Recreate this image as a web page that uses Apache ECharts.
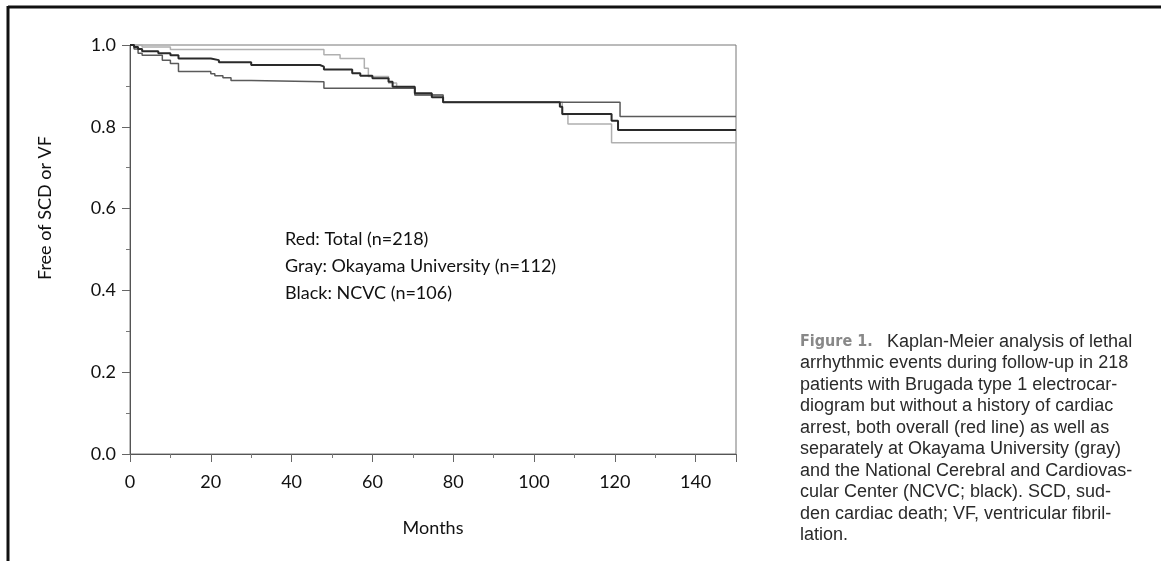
<!DOCTYPE html>
<html>
<head>
<meta charset="utf-8">
<script src="https://cdn.jsdelivr.net/npm/echarts@6/dist/echarts.min.js"></script>
<style>
    html, body { margin: 0; padding: 0; background: #fff; }
    #km { width: 1161px; height: 561px; }
</style>
</head>
<body>
<div id="km"></div>
<script type="text/javascript">
    // Kaplan-Meier steps: [month, survival]
    var totalSteps = [[0, 1.0], [1, 0.995], [2, 0.99], [3, 0.985], [7, 0.98], [10, 0.975], [12, 0.967], [20, 0.963],
        [22, 0.958], [30, 0.951], [47, 0.947], [48, 0.94], [55, 0.931], [57, 0.925], [60, 0.919], [64, 0.91],
        [65, 0.898], [70.5, 0.882], [74.7, 0.872], [77.5, 0.86], [106.4, 0.849], [107, 0.831], [119.2, 0.815],
        [120.8, 0.792], [150, 0.792]];
    var ncvcSteps = [[0, 1.0], [1, 0.99], [2, 0.98], [3, 0.975], [8, 0.963], [10, 0.955], [12, 0.935], [20, 0.93],
        [21, 0.925], [23, 0.92], [25, 0.913], [30, 0.91], [48, 0.894], [70.5, 0.878], [77.5, 0.86], [121.3, 0.825],
        [150, 0.825]];
    var okayamaSteps = [[0, 1.0], [3, 0.995], [10, 0.989], [48, 0.976], [52, 0.967], [58, 0.943], [59, 0.923],
        [64, 0.907], [66, 0.895], [70.5, 0.878], [77.5, 0.86], [107, 0.83], [108.4, 0.807], [119.2, 0.761],
        [150, 0.761]];

    var legendLines = ['Red: Total (n=218)', 'Gray: Okayama University (n=112)', 'Black: NCVC (n=106)'];
    var captionLines = [
        'Kaplan-Meier analysis of lethal',
        'arrhythmic events during follow-up in 218',
        'patients with Brugada type 1 electrocar-',
        'diogram but without a history of cardiac',
        'arrest, both overall (red line) as well as',
        'separately at Okayama University (gray)',
        'and the National Cerebral and Cardiovas-',
        'cular Center (NCVC; black). SCD, sud-',
        'den cardiac death; VF, ventricular fibril-',
        'lation.'
    ];

    var labelFont = 'Lato, "Open Sans", sans-serif';
    var capFont = '"Liberation Sans", Arial, sans-serif';

    var graphics = [
        // frame of the figure
        {type: 'line', shape: {x1: 8, y1: 7, x2: 1161, y2: 7}, style: {stroke: '#111', lineWidth: 3}},
        {type: 'line', shape: {x1: 8, y1: 6, x2: 8, y2: 561}, style: {stroke: '#111', lineWidth: 3}},
        {type: 'text', x: 45, y: 208, rotation: Math.PI / 2, style: {
            text: 'Free of SCD or VF', font: '18px ' + labelFont, fill: '#111', align: 'center', verticalAlign: 'middle'}},
        {type: 'text', x: 433, y: 528, style: {
            text: 'Months', font: '18px ' + labelFont, fill: '#111', align: 'center', verticalAlign: 'middle'}}
    ];
    for (var i = 0; i < legendLines.length; i++) {
        graphics.push({type: 'text', x: 285, y: 239 + i * 27, style: {
            text: legendLines[i], font: '18px ' + labelFont, fill: '#111', verticalAlign: 'middle'}});
    }
    graphics.push({type: 'text', x: 800, y: 342, style: {
        text: 'Figure 1.', font: 'bold 16px "DejaVu Sans Condensed", sans-serif', fill: '#888', verticalAlign: 'middle'}});
    for (var j = 0; j < captionLines.length; j++) {
        graphics.push({type: 'text', x: j == 0 ? 887 : 800, y: 342 + j * 21.5, style: {
            text: captionLines[j], font: '18px ' + capFont, fill: '#2a2a2a', verticalAlign: 'middle'}});
    }

    function kmSeries(name, data, color, width) {
        return {
            name: name,
            type: 'line',
            step: 'end',
            showSymbol: false,
            silent: true,
            data: data,
            lineStyle: {color: color, width: width}
        };
    }

    var option = {
        animation: false,
        grid: {left: 130, right: 425, top: 45, bottom: 107, show: true, borderColor: '#777', borderWidth: 1},
        xAxis: {
            type: 'value', min: 0, max: 150, interval: 20,
            axisLine: {lineStyle: {color: '#555'}},
            axisTick: {show: true, length: 8, lineStyle: {color: '#666'}},
            minorTick: {show: true, splitNumber: 2, length: 4, lineStyle: {color: '#777'}},
            splitLine: {show: false},
            axisLabel: {color: '#111', fontSize: 18, fontFamily: labelFont, margin: 19, showMaxLabel: false}
        },
        yAxis: {
            type: 'value', min: 0, max: 1, interval: 0.2,
            axisLine: {show: true, lineStyle: {color: '#555'}},
            axisTick: {show: true, length: 8, lineStyle: {color: '#666'}},
            minorTick: {show: true, splitNumber: 2, length: 4, lineStyle: {color: '#777'}},
            splitLine: {show: false},
            axisLabel: {color: '#111', fontSize: 18, fontFamily: labelFont, margin: 14,
                formatter: function (v) { return v.toFixed(1); }}
        },
        series: [
            kmSeries('Okayama', okayamaSteps, '#b0b0b0', 1.5),
            kmSeries('NCVC', ncvcSteps, '#5a5a5a', 1.5),
            kmSeries('Total', totalSteps, '#2a2a2a', 2)
        ],
        graphic: graphics
    };

    var kmChart = echarts.init(document.getElementById('km'));
    kmChart.setOption(option);
</script>
</body>
</html>
